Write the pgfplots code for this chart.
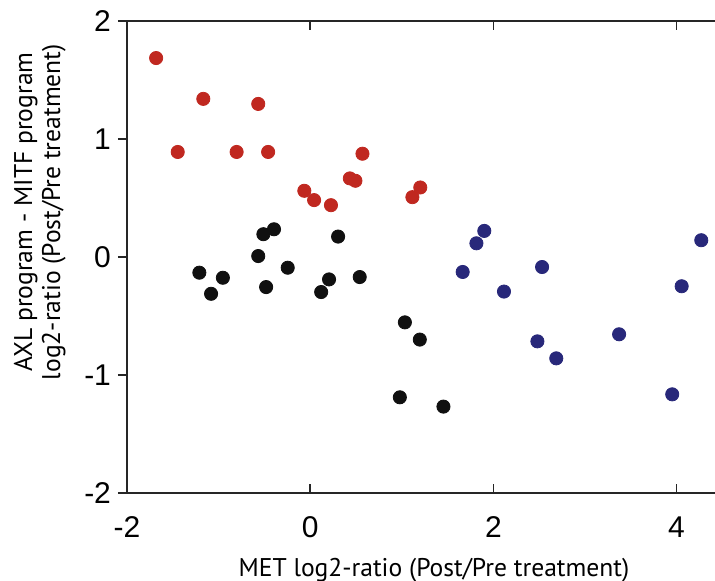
\documentclass[border=0pt]{standalone}
\usepackage{pgfplots}
\pgfplotsset{compat=1.18}
\usepackage{fontspec}
\setmainfont{Liberation Sans}
\newfontfamily\labelfont{PT Sans}
\definecolor{myred}{RGB}{192,40,32}
\definecolor{myblue}{RGB}{40,40,122}
\definecolor{myblack}{RGB}{16,16,16}
\begin{document}
\begin{tikzpicture}
\begin{axis}[
  scale only axis, width=294pt, height=236pt,
  xmin=-2, xmax=4.42, ymin=-2, ymax=2,
  xtick={-2,0,2,4}, xticklabels={-2,0,2,4},
  ytick={-2,-1,0,1,2}, yticklabels={-2,-1,0,1,2},
  separate axis lines,
  axis x line*=box, axis y line*=left,
  x axis line style={-}, y axis line style={-},
  axis line style={line width=0.8pt, black!85},
  xtick align=inside, ytick align=outside,
  major tick length=4.5pt,
  tick style={black!85, line width=0.7pt},
  ticklabel style={font=\fontsize{15}{17}\selectfont},
  xticklabel style={yshift=-8.5pt},
  xlabel={MET log2-ratio (Post/Pre treatment)},
  xlabel style={font=\labelfont\fontsize{12.8}{14}\selectfont, at={(axis description cs:0.522,0)}, anchor=base, yshift=-42pt},
  ylabel={AXL program - MITF program\\log2-ratio (Post/Pre treatment)},
  ylabel style={font=\labelfont\fontsize{12.8}{14}\selectfont, align=center, at={(axis description cs:-0.092,0.595)}, anchor=south},
  clip mode=individual,
]
\addplot[only marks, mark=*, mark size=3.3pt, color=myred, mark options={draw=myred, fill=myred}] coordinates {
(-1.682,1.686) (-1.446,0.890) (-1.167,1.340) (-0.803,0.890) (-0.567,1.297)
(-0.459,0.890) (-0.064,0.561) (0.043,0.482) (0.227,0.439) (0.433,0.666)
(0.494,0.646) (0.571,0.875) (1.116,0.507) (1.202,0.589)
};
\addplot[only marks, mark=*, mark size=3.3pt, color=myblack, mark options={draw=myblack, fill=myblack}] coordinates {
(-1.210,-0.133) (-0.953,-0.176) (-1.082,-0.312) (-0.567,0.008) (-0.511,0.193)
(-0.395,0.235) (-0.481,-0.255) (-0.245,-0.091) (0.120,-0.297) (0.206,-0.190)
(0.305,0.173) (0.541,-0.170) (1.034,-0.554) (1.197,-0.700) (0.979,-1.189)
(1.455,-1.268)
};
\addplot[only marks, mark=*, mark size=3.3pt, color=myblue, mark options={draw=myblue, fill=myblue}] coordinates {
(1.665,-0.127) (1.815,0.116) (1.901,0.221) (2.116,-0.293) (2.532,-0.085)
(4.270,0.142) (4.056,-0.248) (2.481,-0.715) (2.687,-0.859) (3.373,-0.655)
(3.953,-1.164)
};
\coordinate (bl) at (rel axis cs:0,0);
\coordinate (tr) at (rel axis cs:1,1);
\end{axis}
\pgfresetboundingbox
\useasboundingbox ([shift={(-63.5pt,-44pt)}]bl) rectangle ([shift={(0pt,10.5pt)}]tr);
\end{tikzpicture}
\end{document}
